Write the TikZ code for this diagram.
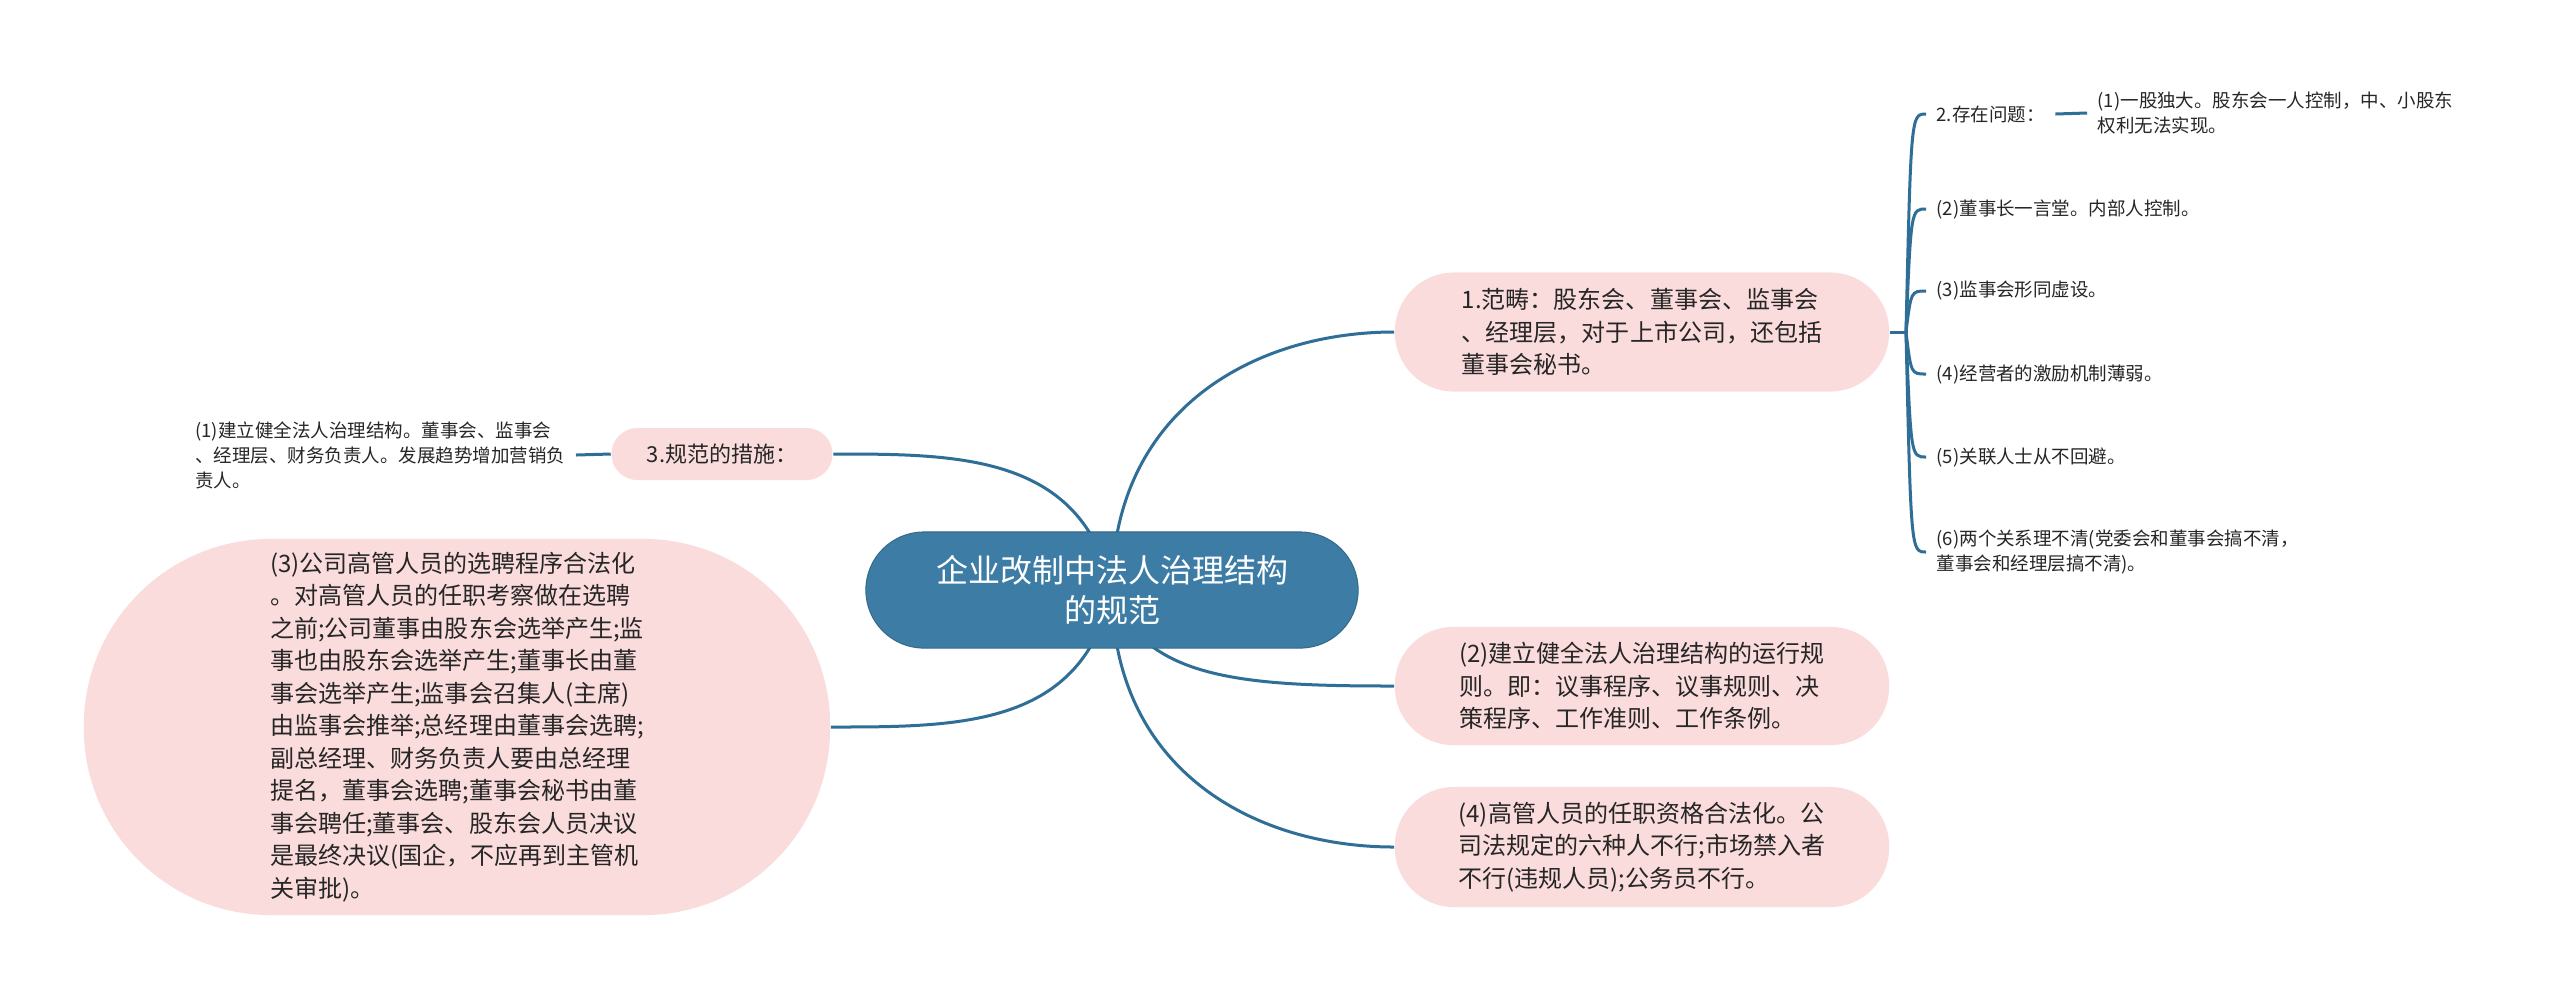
\documentclass[tikz,border=0pt]{standalone}
\usepackage{fontspec}
\setmainfont{Noto Sans CJK SC}
\usepackage{tikz}
\usetikzlibrary{calc, backgrounds}
\definecolor{rootblue}{RGB}{61,125,165}
\definecolor{linkblue}{RGB}{47,110,150}
\definecolor{petal}{RGB}{251,220,220}
\newcommand{\fsz}[2]{\fontsize{#1}{#2}\selectfont}
\newcommand{\twig}[3]{%
  \node[twig] (#1) at (1926,#2) {#3};}

\begin{document}
\begin{tikzpicture}[x=0.01cm, y=-0.01cm,
    link/.style={draw=linkblue, line width=0.03cm},
    root/.style={fill=rootblue, draw=rootblue!85!black, line width=0.3pt, text=white, align=center,
      rounded corners=0.58cm, minimum width=4.92cm, minimum height=1.16cm, font=\fsz{9.1pt}{11.4pt}},
    petalbox/.style={fill=petal, draw=none, text=black!85, align=left, font=\fsz{6.83pt}{9.25pt}},
    twig/.style={anchor=west, inner xsep=0.1cm, inner ysep=0pt, align=left, text=black!85,
      font=\fsz{5.26pt}{7.1pt}}]
    \useasboundingbox (0,0) rectangle (2560,996);

    \node[root] (root) at (1112,590) {企业改制中法人治理结构\\的规范};

    \node[petalbox, minimum width=4.94cm, minimum height=1.19cm, rounded corners=0.59cm] (scope1) at (1642,332)
      {1.范畴：股东会、董事会、监事会\\、经理层，对于上市公司，还包括\\董事会秘书。};
    \node[petalbox, minimum width=4.94cm, minimum height=1.18cm, rounded corners=0.58cm] (rule2) at (1642,686)
      {(2)建立健全法人治理结构的运行规\\则。即：议事程序、议事规则、决\\策程序、工作准则、工作条例。};
    \node[petalbox, minimum width=4.94cm, minimum height=1.2cm, rounded corners=0.59cm] (rule4) at (1642,847)
      {(4)高管人员的任职资格合法化。公\\司法规定的六种人不行;市场禁入者\\不行(违规人员);公务员不行。};
    \node[petalbox, font=\fsz{6.26pt}{8pt}, minimum width=2.21cm, minimum height=0.52cm, rounded corners=0.26cm] (measures) at (722,454)
      {3.规范的措施：};
    \node[petalbox, minimum width=7.46cm, minimum height=3.76cm, rounded corners=1.87cm] (legal3) at (457,727)
      {(3)公司高管人员的选聘程序合法化\\。对高管人员的任职考察做在选聘\\之前;公司董事由股东会选举产生;监\\事也由股东会选举产生;董事长由董\\事会选举产生;监事会召集人(主席)\\由监事会推举;总经理由董事会选聘;\\副总经理、财务负责人要由总经理\\提名，董事会选聘;董事会秘书由董\\事会聘任;董事会、股东会人员决议\\是最终决议(国企，不应再到主管机\\关审批)。};

    \node[twig, anchor=east] (build1) at (576,455)
      {(1)建立健全法人治理结构。董事会、监事会\\、经理层、财务负责人。发展趋势增加营销负\\责人。};

    \coordinate (hub) at (1906,332);
    \twig{issue}{114}{2.存在问题：}
    \node[twig] (issue1) at (2087,113) {(1)一股独大。股东会一人控制，中、小股东\\权利无法实现。};
    \twig{issue2}{209}{(2)董事长一言堂。内部人控制。}
    \twig{issue3}{291}{(3)监事会形同虚设。}
    \twig{issue4}{374}{(4)经营者的激励机制薄弱。}
    \twig{issue5}{457}{(5)关联人士从不回避。}
    \twig{issue6}{552}{(6)两个关系理不清(党委会和董事会搞不清，\\董事会和经理层搞不清)。}

    \begin{scope}[on background layer]
        \fill[white] (0,0) rectangle (2560,996);
        \draw[link] (root.center) .. controls +(0,-180) and +(-140,0) .. (scope1.west);
        \draw[link] (root.center) .. controls +(-30,-136) and +(125,0) .. (measures.east);
        \draw[link] (root.center) .. controls +(-30,137) and +(130,0) .. (legal3.east);
        \draw[link] (root.center) .. controls +(30,90) and +(-150,0) .. (rule2.west);
        \draw[link] (root.center) .. controls +(0,180) and +(-140,0) .. (rule4.west);
        \draw[link] (measures.west) -- (build1.east);
        \draw[link] (scope1.east) -- (hub);
        \foreach \n in {issue,issue2,issue3,issue4,issue5,issue6}
            \draw[link] (hub) .. controls ($(hub |- \n.west)+(5,0)$) .. (\n.west);
        \draw[link] (issue.east) -- (issue1.west);
    \end{scope}
\end{tikzpicture}
\end{document}
